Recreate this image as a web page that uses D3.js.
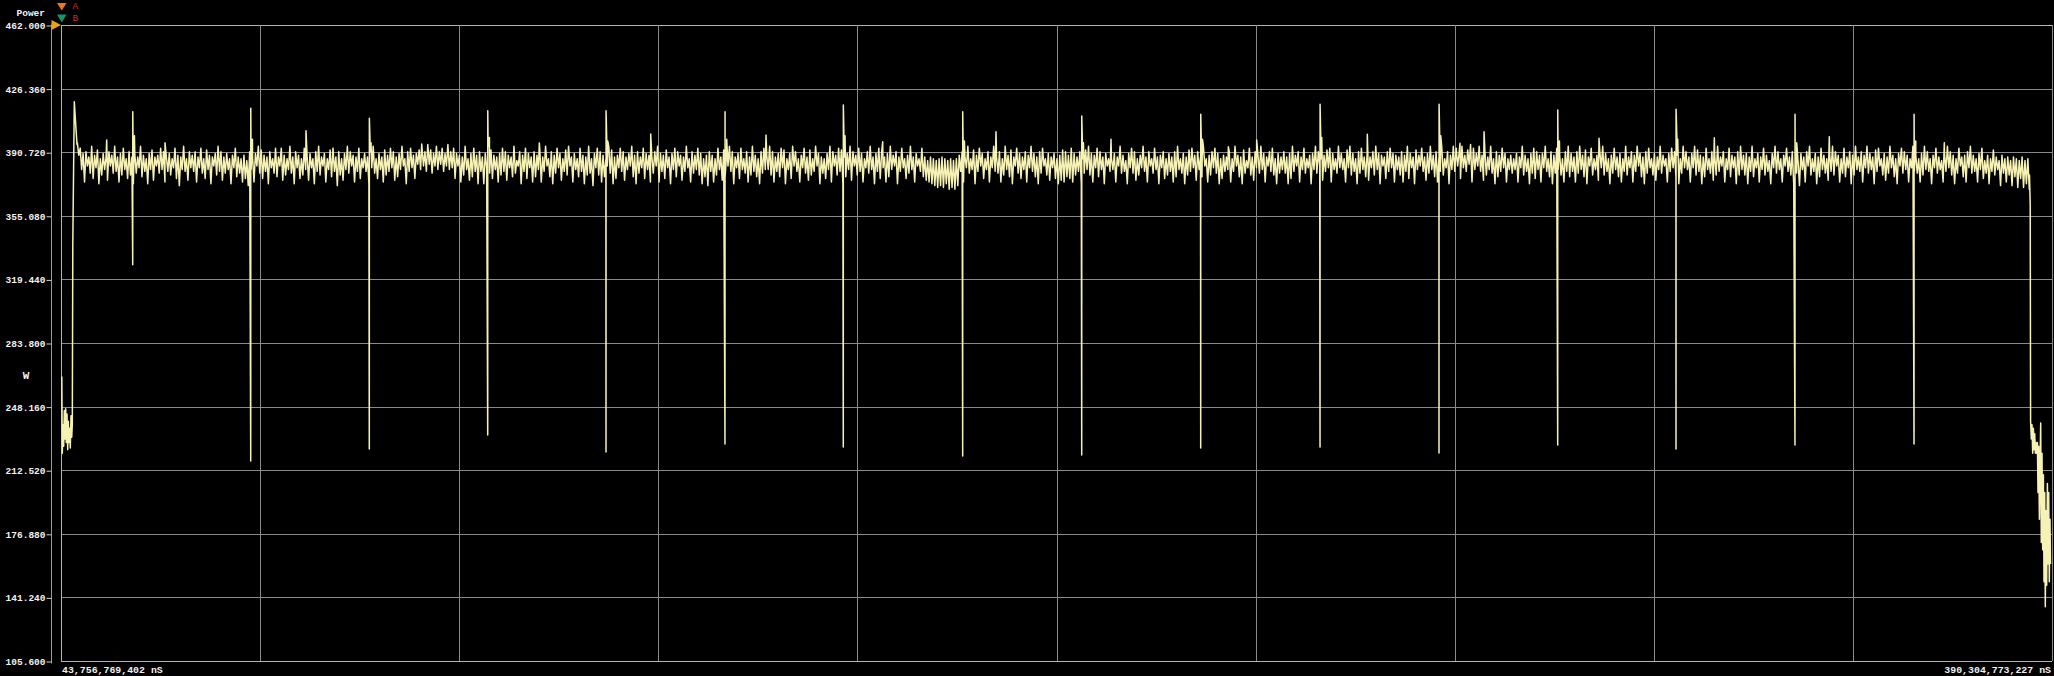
<!DOCTYPE html>
<html><head><meta charset="utf-8">
<script src="https://cdn.jsdelivr.net/npm/d3@7"></script>
<style>
html,body{margin:0;padding:0;background:#000;overflow:hidden;}
svg{display:block;}
text{font-family:"Liberation Mono","DejaVu Sans Mono",monospace;font-weight:bold;fill:#f2f2f2;}
</style></head><body>
<svg id="chart" width="2054" height="676"></svg>
<script>
// ---------------- DATA ----------------
const yTickValues = [462, 426.36, 390.72, 355.08, 319.44, 283.8, 248.16, 212.52, 176.88, 141.24, 105.6];
const xStartNs = 43756769402;
const xEndNs = 390304773227;
const xDivisions = 10;
const yLabel = "Power";
const yUnit = "W";
const markerLabels = ["A", "B"];

// start of capture (time s, power W)
const startTimes = [43.896, 43.983, 44.105, 44.227, 44.331, 44.453, 44.575, 44.679, 44.801, 44.923, 45.027, 45.149, 45.271, 45.376, 45.498, 45.619, 45.724, 45.811, 45.898, 46.072, 46.281, 46.542];
const startValues = [265, 222, 238, 226, 246, 230, 247, 228, 244, 224, 240, 228, 236, 225, 243, 231, 238, 340, 366, 419, 408, 395];

// steady band samples (every 0.25 s from 46.6 s)
const bandStart = 46.6;
const bandStep = 0.25;
const bandValues = [
396,389,393,381,390,374,391,383,388,379,394,376,389,382,392,373,387,378,390,381,388,375,391,383,389,379,394,380,388,374,390,378,393,381,387,376,391,378,388,373,
390,379,388,382,394,377,389,380,387,373,390,381,392,375,388,383,389,379,393,381,391,374,388,380,390,378,387,382,393,376,389,372,388,381,394,380,387,375,391,382,
389,380,391,374,388,382,393,379,387,376,392,381,389,373,388,383,390,378,394,380,391,375,388,379,390,381,387,373,389,382,393,377,388,379,387,374,389,376,386,372,
391,381,388,374,390,383,394,379,392,376,389,380,388,373,391,382,387,379,393,377,388,383,393,375,389,378,387,381,394,379,388,373,391,382,389,376,387,378,393,381,
388,375,390,382,387,373,391,380,394,378,388,383,390,374,387,381,392,377,393,380,388,372,391,378,387,375,390,381,394,379,391,383,389,374,388,380,393,376,387,382,
390,380,388,373,391,382,394,379,387,376,390,381,388,374,392,378,389,380,393,382,391,375,388,377,390,381,394,383,387,373,391,380,393,382,389,376,390,384,392,381,
393,383,391,380,395,384,392,379,390,383,394,381,391,384,393,380,390,383,395,381,391,382,393,376,390,383,389,374,388,378,394,381,387,375,390,377,393,380,389,373,
391,380,388,373,390,382,394,379,392,376,389,381,388,374,390,378,393,380,391,375,389,382,388,377,394,379,386,383,391,373,389,380,393,376,390,382,388,374,391,377,
389,381,392,374,388,380,394,383,387,377,391,373,389,379,393,382,390,375,387,380,392,378,394,383,388,374,390,381,387,377,393,380,389,373,388,378,394,379,387,372,
390,382,393,378,391,374,389,377,387,383,394,379,392,373,388,376,389,382,393,380,391,375,388,381,390,383,394,377,389,373,391,379,388,382,393,376,390,381,389,374,
388,379,391,383,394,374,390,380,389,376,392,382,388,373,390,381,393,377,391,383,389,375,388,380,394,382,387,374,391,379,389,381,393,378,390,373,387,377,389,372,
391,380,389,374,387,378,393,381,388,375,392,377,389,383,394,380,391,373,388,382,390,376,393,381,387,379,391,374,388,378,394,380,389,377,387,373,391,379,393,381,
389,381,394,378,391,374,388,380,390,377,393,382,392,373,387,381,390,376,394,383,391,380,387,374,389,382,393,379,388,375,392,378,387,380,394,383,390,373,388,379,
387,376,390,381,394,374,391,383,389,378,393,380,392,373,388,377,390,381,394,375,391,383,389,378,393,380,390,374,387,382,391,379,394,381,388,373,390,380,393,376,
391,382,388,374,390,377,394,381,389,383,391,373,388,380,393,382,387,376,389,379,394,381,388,374,390,383,387,380,393,377,388,375,386,374,388,373,387,372,386,371,
387,372,388,371,387,373,386,370,387,371,386,370,387,372,389,380,391,374,388,382,394,379,387,381,392,373,389,380,393,383,390,376,387,381,391,374,388,382,394,380,
388,379,391,374,387,378,394,381,389,377,392,373,388,383,393,379,390,376,388,381,391,374,389,382,394,380,390,377,388,373,391,379,393,383,387,378,390,375,388,382,
390,376,387,373,389,375,392,374,391,377,389,376,393,374,390,378,388,380,391,373,387,379,392,381,394,378,390,374,389,382,393,377,391,381,388,373,390,383,387,380,
387,381,390,374,388,383,394,379,389,380,386,373,390,382,393,379,391,375,387,378,389,382,394,380,388,374,391,383,387,379,393,381,388,373,389,382,391,376,387,378,
390,380,388,374,391,377,394,381,387,379,390,373,388,378,392,380,393,382,389,375,391,381,388,377,394,383,387,374,389,378,391,382,393,379,390,373,387,376,389,380,
388,381,391,374,387,380,394,383,389,377,388,373,392,379,386,382,393,378,388,375,391,382,389,379,394,381,390,374,388,383,391,380,393,378,387,373,390,379,388,381,
391,379,388,373,390,376,394,380,389,383,391,374,388,381,393,379,387,382,389,373,390,381,394,379,391,383,387,375,389,380,392,382,393,374,390,381,387,379,394,382,
390,381,387,374,392,382,394,378,390,380,387,373,391,379,393,381,388,377,390,375,388,382,391,378,394,381,390,373,389,383,388,376,391,380,393,382,390,374,389,381,
388,378,391,374,389,380,394,376,390,382,388,373,392,381,389,383,393,380,388,375,390,379,394,381,389,377,391,374,388,380,393,378,387,382,391,373,389,381,394,380,
393,383,390,376,394,382,389,380,392,384,395,374,393,381,390,383,394,380,389,375,391,378,388,381,394,379,387,373,391,377,389,380,393,382,390,374,387,381,389,379,
387,381,390,374,388,382,394,378,389,380,387,373,390,379,393,376,391,381,389,374,390,382,394,380,387,377,391,373,389,379,393,381,390,378,387,374,391,380,394,377,
390,380,388,374,391,379,394,381,389,377,392,373,388,383,393,378,387,381,389,375,391,382,394,378,390,380,387,373,389,379,393,381,388,377,390,374,387,380,394,378,
388,382,391,374,389,380,394,383,390,377,388,373,391,379,393,382,387,378,390,375,388,381,394,379,389,383,387,374,390,380,393,382,391,377,389,373,387,379,394,382,
391,381,388,374,390,382,394,378,392,380,389,373,388,377,393,381,387,379,391,375,389,378,394,380,388,383,391,374,387,381,393,377,389,382,388,373,391,378,394,381,
389,378,390,373,388,380,394,377,387,382,390,374,388,381,393,378,389,380,386,373,390,382,394,379,391,381,387,374,389,383,393,380,388,378,391,373,387,379,386,372,
390,381,388,374,391,383,394,378,387,380,390,373,388,377,393,381,389,379,387,375,390,380,394,378,391,383,389,374,387,379,393,377,388,382,391,373,389,378,394,381,
388,380,391,374,389,382,394,379,390,381,388,373,392,380,393,383,387,378,390,375,388,379,394,382,389,377,387,373,390,383,393,379,391,381,389,374,387,382,394,380,
389,379,387,374,390,378,394,381,391,380,387,373,389,382,393,379,388,381,386,374,390,380,394,382,391,378,389,373,387,379,393,383,388,377,389,374,391,382,394,379,
389,380,387,374,390,381,393,376,386,379,389,373,387,380,392,378,388,381,386,372,389,379,387,374,388,378,386,372,388,377,387,371,386,376,388,371,386,373,387,370
];

// periodic spikes
const spikeTimes  = [56.24, 76.78, 97.42, 118.03, 138.62, 159.33, 179.92, 200.70, 221.42, 242.13, 262.90, 283.61, 304.27, 324.86, 345.57, 366.29];
const spikeLows   = [327.7, 217.7, 224.4, 232.2, 222.7, 227.2, 225.5, 220.5, 221.0, 224.9, 225.5, 222.2, 226.6, 224.4, 226.6, 227.2];
const spikeHighs  = [413.4, 415.3, 409.7, 414.0, 414.0, 413.4, 417.2, 413.4, 411.0, 412.0, 417.6, 417.6, 414.4, 414.8, 412.0, 412.0];
const spikeDecays = [400, 398, 396, 399, 397, 398, 400, 397, 396, 398, 399, 400, 397, 398, 396, 397];

// smaller bumps
const bumpTimes  = [51.71, 61.86, 86.40, 106.54, 127.01, 146.40, 166.47, 186.78, 206.50, 226.52, 246.94, 251.87, 271.13, 287.26, 291.45, 311.46, 331.53, 351.54, 371.56];
const bumpValues = [397.6, 396.0, 402.8, 395.3, 395.9, 400.9, 400.4, 396.6, 402.2, 398.0, 393.8, 397.6, 400.8, 395.7, 402.2, 398.5, 398.8, 399.4, 396.0];

// end of capture
const endTimes  = [386.388, 386.510, 386.580, 386.702, 386.823, 386.945, 387.067, 387.171, 387.293, 387.415, 387.520, 387.641, 387.763, 387.868, 387.990, 388.111, 388.216, 388.338, 388.442, 388.564, 388.686, 388.807, 388.912, 389.034, 389.138, 389.260, 389.382, 389.504, 389.608, 389.730, 389.834, 389.956, 390.043];
const endValues = [378, 362, 240, 230, 238, 222, 236, 224, 233, 222, 228, 222, 228, 200, 226, 185, 215, 239, 172, 222, 168, 210, 150, 200, 136, 190, 148, 205, 160, 200, 150, 185, 160];

// ---------------- LAYOUT ----------------
const W = 2054, H = 676;
const plot = {left: 61, right: 2052, top: 25, bottom: 661};
const axisX = 51;

const svg = d3.select("#chart");
svg.append("rect").attr("width", W).attr("height", H).attr("fill", "#000");

const x = d3.scaleLinear().domain([xStartNs / 1e9, xEndNs / 1e9]).range([plot.left, plot.right]);
const y = d3.scaleLinear().domain([d3.min(yTickValues), d3.max(yTickValues)]).range([plot.bottom, plot.top]);

// grid
const xGridValues = d3.range(xDivisions + 1).map(i => x.domain()[0] + i * (x.domain()[1] - x.domain()[0]) / xDivisions);
const grid = svg.append("g");
grid.selectAll("line.h").data(yTickValues).join("line")
  .attr("x1", plot.left).attr("x2", plot.right)
  .attr("y1", d => Math.round(y(d)) + 0.5).attr("y2", d => Math.round(y(d)) + 0.5)
  .attr("stroke", (d, i) => (i === 0 || i === yTickValues.length - 1) ? "#b4b4b4" : "#8a8a8a")
  .attr("stroke-width", 1);
grid.selectAll("line.v").data(xGridValues).join("line")
  .attr("y1", plot.top).attr("y2", plot.bottom)
  .attr("x1", d => Math.round(x(d)) + 0.5).attr("x2", d => Math.round(x(d)) + 0.5)
  .attr("stroke", (d, i) => i === 0 ? "#b4b4b4" : "#8a8a8a")
  .attr("stroke-width", 1);

// y axis
const yAxis = d3.axisLeft(y).tickValues(yTickValues).tickFormat(d3.format(".3f")).tickSize(5).tickSizeOuter(0).tickPadding(1);
const gy = svg.append("g").attr("transform", `translate(${axisX + 0.5},0.5)`).call(yAxis);
gy.select(".domain").attr("stroke", "#9a9a9a").attr("d", `M0,${plot.top - 1}V${plot.bottom + 2}`);
gy.selectAll(".tick line").attr("stroke", "#d0d0d0");
gy.selectAll(".tick text").attr("fill", "#f2f2f2").style("font-size", "9.5px")
  .style("font-family", '"Liberation Mono","DejaVu Sans Mono",monospace').style("font-weight", "bold");

// titles
svg.append("text").attr("x", 45).attr("y", 16).attr("text-anchor", "end").style("font-size", "9.5px").text(yLabel);
svg.append("text").attr("x", 26).attr("y", 379).attr("text-anchor", "middle").style("font-size", "11px").text(yUnit);

// x labels
const fmtNs = d3.format(",");
svg.append("text").attr("x", plot.left + 1).attr("y", 673).attr("text-anchor", "start").style("font-size", "9.9px").text(fmtNs(xStartNs) + " nS");
svg.append("text").attr("x", plot.right - 1).attr("y", 673).attr("text-anchor", "end").style("font-size", "9.9px").text(fmtNs(xEndNs) + " nS");

// markers
svg.append("path").attr("d", "M57,3L66.5,3L61.75,10.5Z").attr("fill", "#e8791c");
svg.append("path").attr("d", "M57,14.5L66.5,14.5L61.75,22.5Z").attr("fill", "#17946c");
svg.append("path").attr("d", "M51.5,20L61,25L51.5,30Z").attr("fill", "#e8a318");
svg.append("text").attr("x", 72.5).attr("y", 9).style("font-size", "9.5px").style("font-weight", "normal").style("fill", "#d62a2a").text(markerLabels[0]);
svg.append("text").attr("x", 72.5).attr("y", 21).style("font-size", "9.5px").style("font-weight", "normal").style("fill", "#d62a2a").text(markerLabels[1]);

// ---------------- TRACE ----------------
const pts = [];
startTimes.forEach((t, i) => pts.push([t, startValues[i]]));
bandValues.forEach((v, i) => pts.push([bandStart + i * bandStep, v]));
spikeTimes.forEach((t, i) => {
  pts.push([t, spikeLows[i]]);
  pts.push([t + 0.01, spikeHighs[i]]);
  pts.push([t + 0.3, spikeDecays[i]]);
});
bumpTimes.forEach((t, i) => pts.push([t, bumpValues[i]]));
endTimes.forEach((t, i) => pts.push([t, endValues[i]]));
pts.sort((a, b) => a[0] - b[0]);

svg.append("clipPath").attr("id", "clip").append("rect")
  .attr("x", plot.left).attr("y", plot.top).attr("width", plot.right - plot.left).attr("height", plot.bottom - plot.top);

const line = d3.line().x(d => x(d[0])).y(d => y(d[1]));
svg.append("path").datum(pts)
  .attr("clip-path", "url(#clip)")
  .attr("d", line)
  .attr("fill", "none")
  .attr("stroke", "#f6f1b4")
  .attr("stroke-width", 1.5)
  .attr("stroke-linejoin", "round");
</script>
</body></html>
